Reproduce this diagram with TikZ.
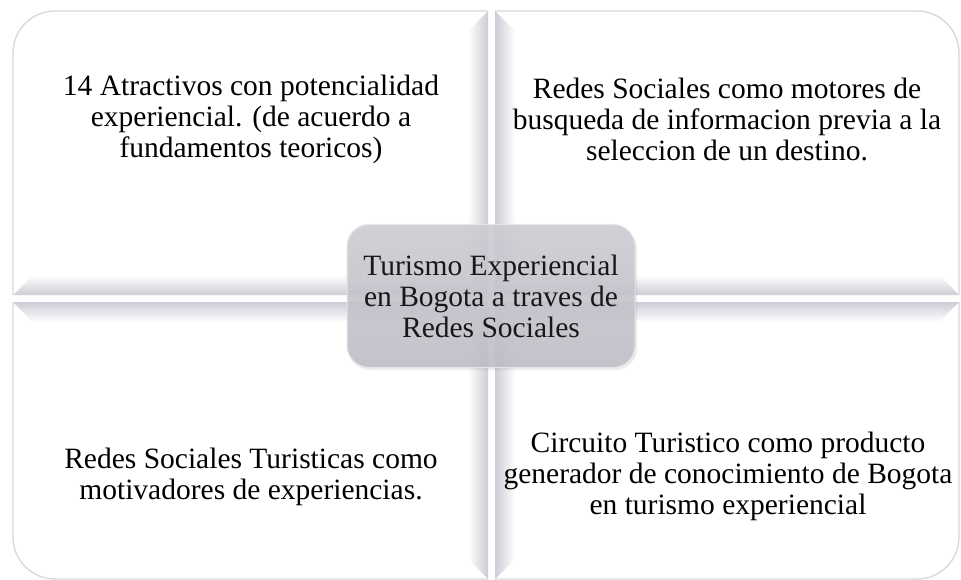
\documentclass[tikz,border=0pt]{standalone}
\usepackage{fontspec}
\setmainfont{Liberation Serif}
\usepackage{xcolor}
\definecolor{rimgray}{RGB}{216,216,221}
\definecolor{bevelgray}{RGB}{204,204,214}
\definecolor{boxtop}{RGB}{204,204,211}
\definecolor{boxbottom}{RGB}{190,190,199}

\tikzset{
  quadtext/.style={align=center,inner sep=0pt,font=\fontsize{29.5}{31}\selectfont},
  centerbox/.style={quadtext,rounded corners=22pt,minimum width=288pt,minimum height=143pt,
    top color=boxtop,bottom color=boxbottom,draw=white!80!gray,line width=1pt,fill opacity=0.88}
}

\begin{document}
\begin{tikzpicture}[x=1pt,y=-1pt]
  \def\L{13} \def\R{959} \def\T{11} \def\B{579}
  \def\xa{488} \def\xb{495} % vertical gap
  \def\ya{295} \def\yb{302} % horizontal gap
  \def\w{20}
  \useasboundingbox (0,0) rectangle (961,580);

  \draw[rimgray,line width=1.4pt,fill=white,rounded corners=42pt] (\L,\T) rectangle (\R,\B);
  \fill[white] (\xa,0) rectangle (\xb,580);
  \fill[white] (0,\ya) rectangle (961,\yb);

  % top left
  \shade[left color=white,right color=bevelgray] (\xa,\T) -- (\xa,\ya) -- (\xa-\w,\ya-\w) -- (\xa-\w,\T+\w) -- cycle;
  \shade[top color=white,bottom color=bevelgray] (\L,\ya) -- (\xa,\ya) -- (\xa-\w,\ya-\w) -- (\L+\w,\ya-\w) -- cycle;
  % top right
  \shade[left color=bevelgray,right color=white] (\xb,\T) -- (\xb,\ya) -- (\xb+\w,\ya-\w) -- (\xb+\w,\T+\w) -- cycle;
  \shade[top color=white,bottom color=bevelgray] (\xb,\ya) -- (\R,\ya) -- (\R-\w,\ya-\w) -- (\xb+\w,\ya-\w) -- cycle;
  % bottom left
  \shade[left color=white,right color=bevelgray] (\xa,\yb) -- (\xa,\B) -- (\xa-\w,\B-\w) -- (\xa-\w,\yb+\w) -- cycle;
  \shade[top color=bevelgray,bottom color=white] (\L,\yb) -- (\xa,\yb) -- (\xa-\w,\yb+\w) -- (\L+\w,\yb+\w) -- cycle;
  % bottom right
  \shade[left color=bevelgray,right color=white] (\xb,\yb) -- (\xb,\B) -- (\xb+\w,\B-\w) -- (\xb+\w,\yb+\w) -- cycle;
  \shade[top color=bevelgray,bottom color=white] (\xb,\yb) -- (\R,\yb) -- (\R-\w,\yb+\w) -- (\xb+\w,\yb+\w) -- cycle;

  \node[quadtext] (atractivos) at (251,119) {14 Atractivos con potencialidad\\experiencial. (de acuerdo a\\fundamentos teoricos)};
  \node[quadtext] (busqueda) at (727,119) {Redes Sociales como motores de\\busqueda de informacion previa a la\\seleccion de un destino.};
  \node[quadtext] (motivadores) at (251,477) {Redes Sociales Turisticas como\\motivadores de experiencias.};
  \node[quadtext] (circuito) at (728,476) {Circuito Turistico como producto\\generador de conocimiento de Bogota\\en turismo experiencial};

  \fill[gray,opacity=0.15,rounded corners=22pt] (348.5,226.5) rectangle (637,370);
  \node[centerbox] (centro) at (491,296) {Turismo Experiencial\\en Bogota a traves de\\Redes Sociales};
\end{tikzpicture}
\end{document}
